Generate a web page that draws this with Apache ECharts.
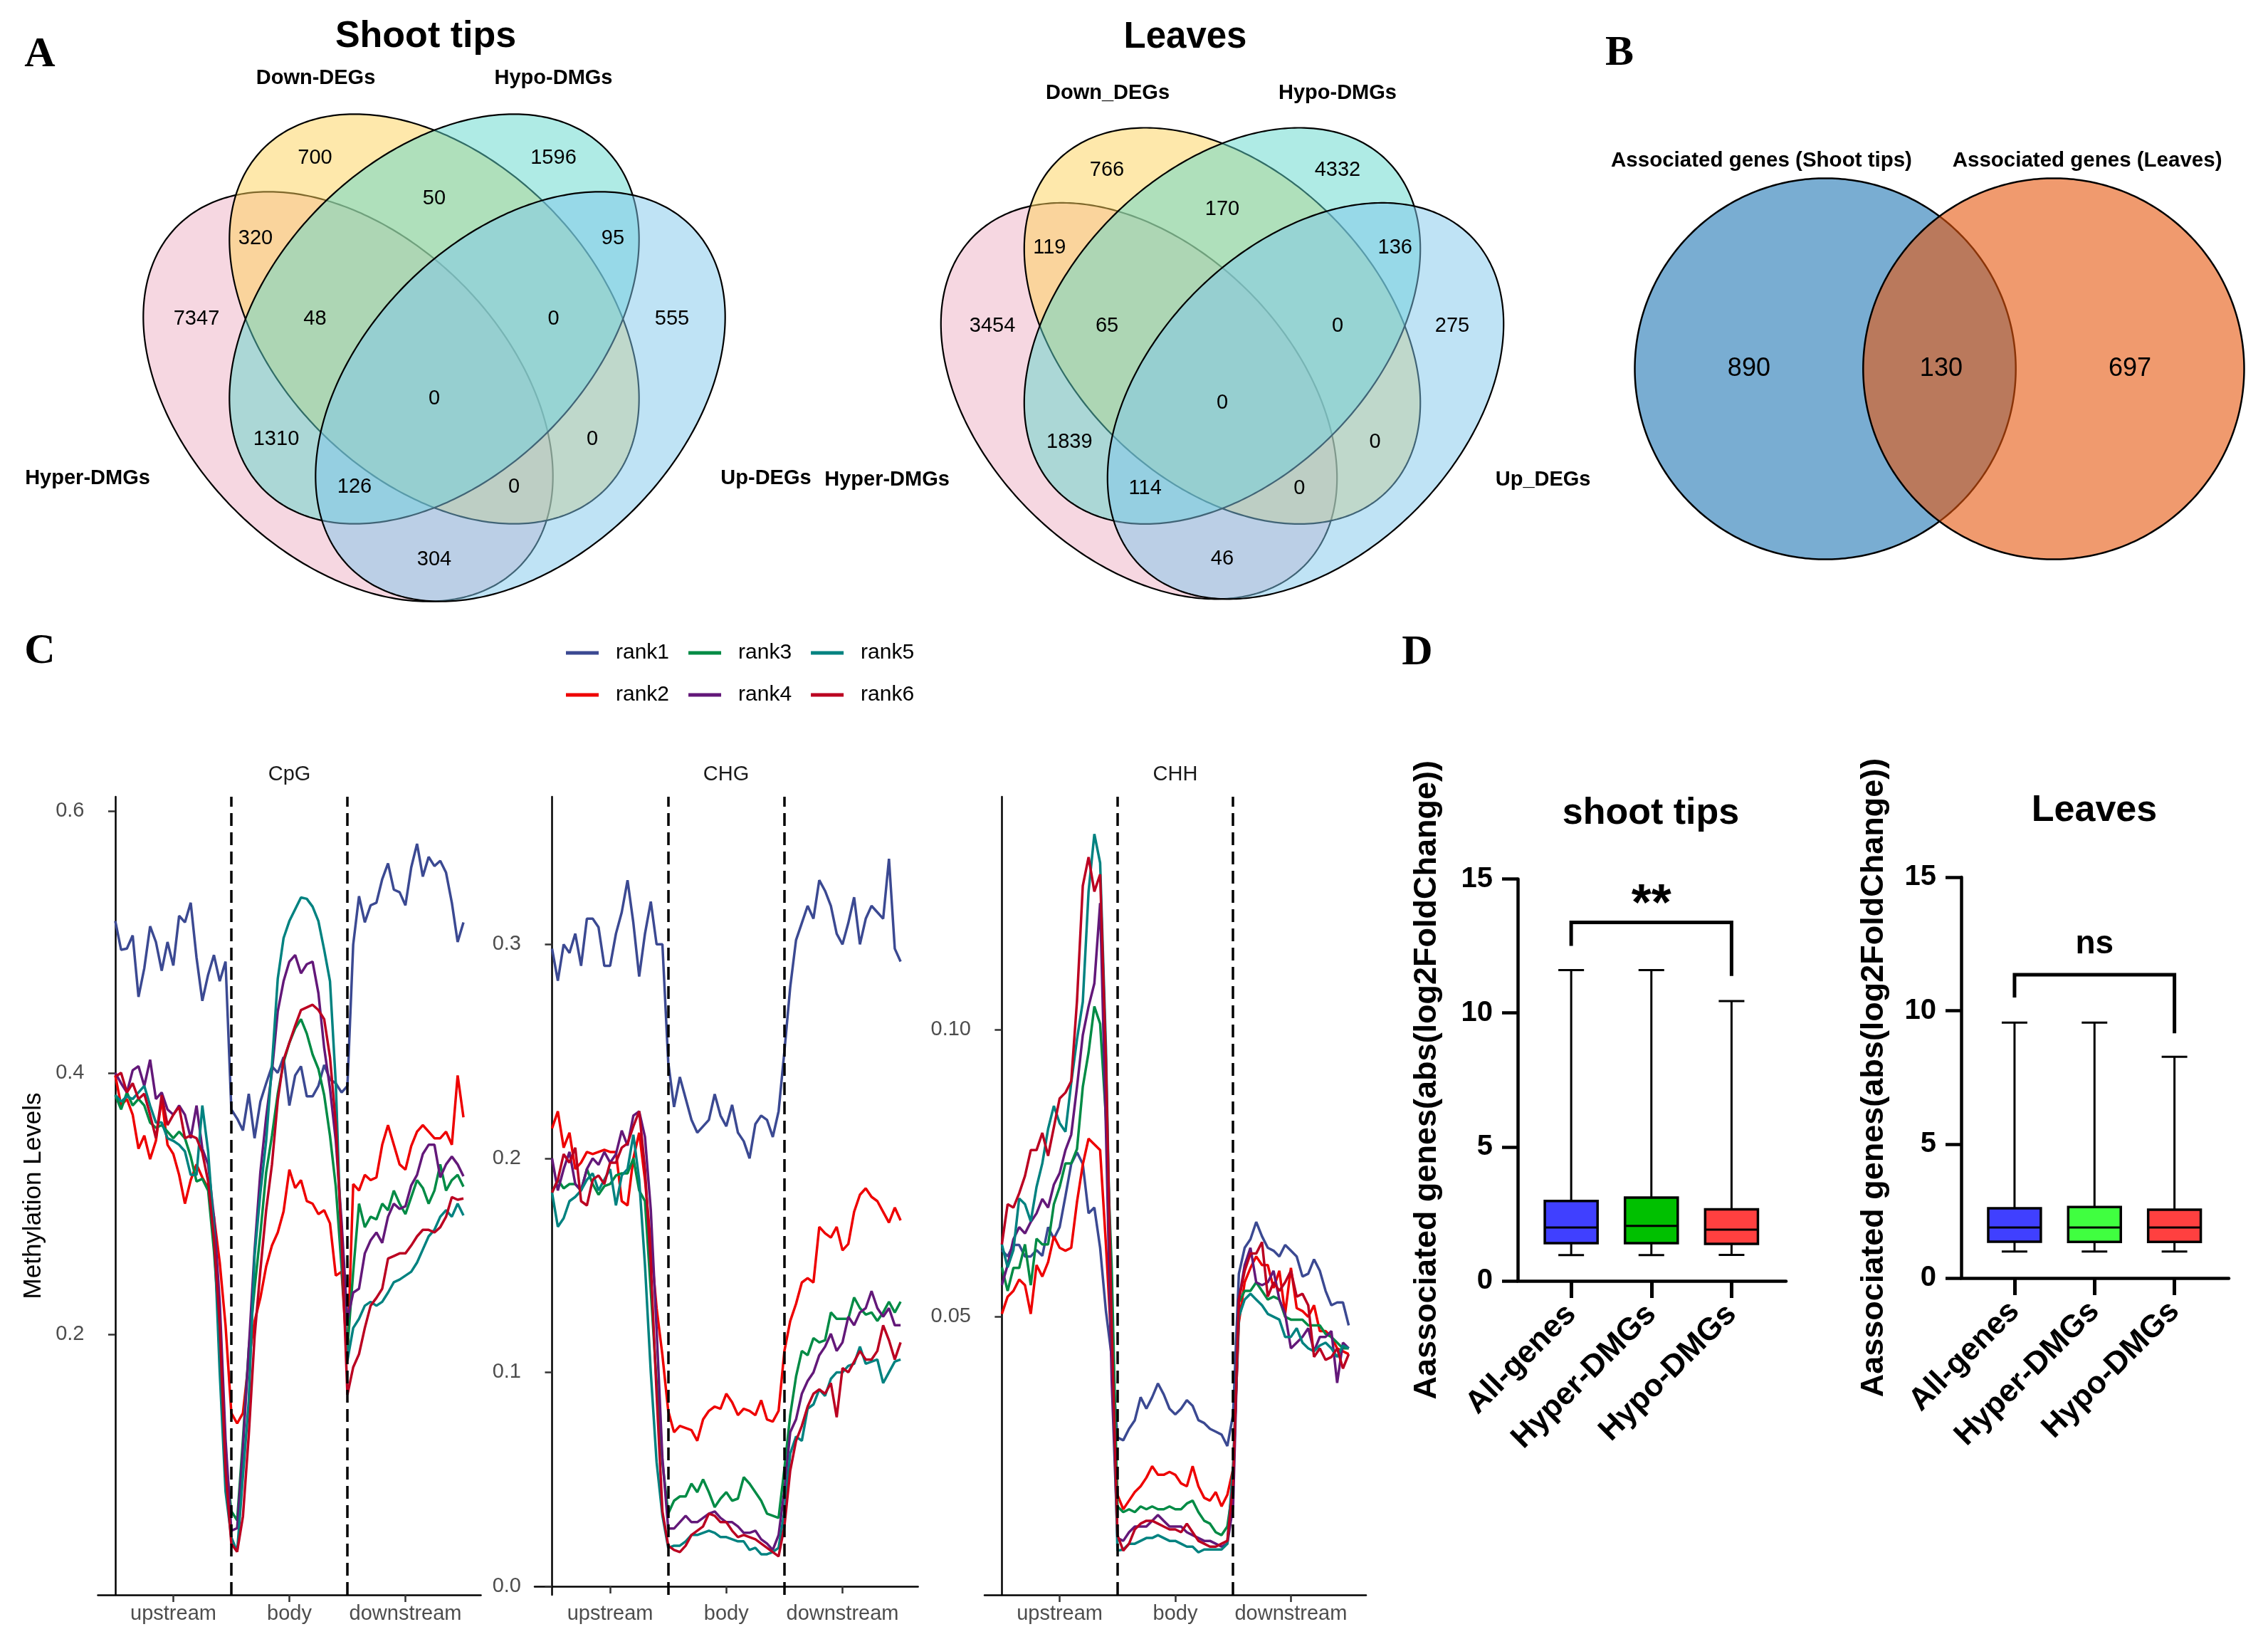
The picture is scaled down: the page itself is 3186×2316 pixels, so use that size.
<!DOCTYPE html>
<html><head><meta charset="utf-8">
<script src="https://cdn.jsdelivr.net/npm/echarts@6/dist/echarts.min.js"></script>
<style>html,body{margin:0;padding:0;background:#fff}#c{width:3186px;height:2316px}</style>
</head><body><div id="c"></div>
<script>
// ================= DATA =================
// Panel A: 4-set Venn counts, region order given by regionKeys (A=Hyper, B=Down, C=Hypo, D=Up)
const regionKeys = ['B','C','BC','AB','CD','A','ABC','BCD','D','ABCD','AC','BD','ACD','ABD','AD'];
const shootSetNames = ['Hyper-DMGs','Down-DEGs','Hypo-DMGs','Up-DEGs'];
const leavesSetNames = ['Hyper-DMGs','Down_DEGs','Hypo-DMGs','Up_DEGs'];
const shootCounts = [700,1596,50,320,95,7347,48,0,555,0,1310,0,126,0,304];
const leavesCounts = [766,4332,170,119,136,3454,65,0,275,0,1839,0,114,0,46];
// Panel B
const assocSetNames = ['Associated genes (Shoot tips)','Associated genes (Leaves)'];
const assocCounts = [890,130,697];
// Panel C
const rankNames = ['rank1','rank2','rank3','rank4','rank5','rank6'];
const contextNames = ['CpG','CHG','CHH'];
const regionNames = ['upstream','body','downstream'];
const regionTicks = [0.5,1.5,2.5];
const metaX = [0,0.05,0.1,0.15,0.2,0.25,0.3,0.35,0.4,0.45,0.5,0.55,0.6,0.65,0.7,0.75,0.8,0.85,0.9,0.95,1,1.05,1.1,1.15,1.2,1.25,1.3,1.35,1.4,1.45,1.5,1.55,1.6,1.65,1.7,1.75,1.8,1.85,1.9,1.95,2,2.05,2.1,2.15,2.2,2.25,2.3,2.35,2.4,2.45,2.5,2.55,2.6,2.65,2.7,2.75,2.8,2.85,2.9,2.95,3];
const cpgRank1 = [0.516,0.494,0.495,0.505,0.458,0.480,0.512,0.500,0.478,0.500,0.482,0.520,0.515,0.530,0.488,0.455,0.475,0.490,0.470,0.485,0.372,0.365,0.356,0.384,0.350,0.378,0.392,0.405,0.400,0.412,0.375,0.398,0.405,0.382,0.382,0.390,0.406,0.395,0.392,0.385,0.390,0.498,0.535,0.515,0.528,0.530,0.548,0.560,0.540,0.538,0.528,0.557,0.575,0.550,0.565,0.558,0.562,0.553,0.530,0.500,0.515];
const cpgRank2 = [0.398,0.375,0.380,0.368,0.342,0.352,0.334,0.348,0.380,0.345,0.338,0.322,0.300,0.318,0.330,0.320,0.312,0.290,0.255,0.207,0.140,0.132,0.140,0.180,0.210,0.228,0.252,0.268,0.278,0.294,0.326,0.312,0.318,0.302,0.300,0.292,0.295,0.285,0.245,0.248,0.180,0.315,0.310,0.322,0.318,0.320,0.345,0.360,0.345,0.330,0.326,0.344,0.355,0.360,0.355,0.350,0.350,0.355,0.345,0.398,0.366];
const cpgRank3 = [0.383,0.372,0.385,0.375,0.380,0.375,0.362,0.358,0.360,0.355,0.350,0.355,0.350,0.336,0.317,0.319,0.310,0.264,0.202,0.105,0.065,0.058,0.120,0.189,0.235,0.277,0.324,0.352,0.384,0.408,0.423,0.434,0.441,0.430,0.414,0.403,0.383,0.352,0.313,0.251,0.189,0.248,0.300,0.282,0.290,0.288,0.300,0.295,0.310,0.300,0.292,0.305,0.318,0.312,0.300,0.310,0.330,0.310,0.318,0.322,0.313];
const cpgRank4 = [0.400,0.392,0.385,0.402,0.405,0.390,0.410,0.380,0.385,0.372,0.368,0.375,0.368,0.350,0.375,0.342,0.330,0.290,0.225,0.120,0.050,0.052,0.113,0.189,0.264,0.324,0.366,0.401,0.447,0.470,0.485,0.490,0.476,0.483,0.485,0.461,0.419,0.388,0.348,0.286,0.211,0.232,0.235,0.262,0.272,0.278,0.270,0.290,0.300,0.296,0.298,0.314,0.322,0.338,0.345,0.345,0.320,0.330,0.336,0.330,0.321];
const cpgRank5 = [0.383,0.378,0.382,0.380,0.385,0.390,0.375,0.362,0.362,0.350,0.348,0.345,0.340,0.322,0.322,0.375,0.340,0.280,0.171,0.080,0.045,0.034,0.092,0.149,0.260,0.308,0.348,0.406,0.472,0.503,0.516,0.525,0.534,0.533,0.527,0.516,0.494,0.470,0.392,0.260,0.180,0.205,0.212,0.222,0.225,0.222,0.225,0.232,0.240,0.242,0.245,0.248,0.255,0.265,0.275,0.280,0.290,0.295,0.290,0.300,0.291];
const cpgRank6 = [0.397,0.400,0.385,0.392,0.380,0.384,0.368,0.350,0.383,0.360,0.368,0.374,0.350,0.352,0.350,0.339,0.317,0.273,0.207,0.096,0.040,0.034,0.061,0.123,0.198,0.249,0.295,0.330,0.379,0.410,0.423,0.436,0.448,0.450,0.452,0.448,0.441,0.412,0.361,0.273,0.154,0.175,0.185,0.205,0.222,0.228,0.235,0.258,0.260,0.262,0.262,0.268,0.275,0.280,0.280,0.278,0.282,0.290,0.305,0.303,0.304];
const chgRank1 = [0.298,0.283,0.300,0.296,0.305,0.290,0.312,0.312,0.308,0.290,0.290,0.305,0.315,0.330,0.310,0.285,0.305,0.320,0.300,0.300,0.245,0.224,0.238,0.228,0.218,0.212,0.215,0.218,0.230,0.220,0.215,0.225,0.212,0.208,0.200,0.216,0.220,0.218,0.210,0.222,0.250,0.280,0.302,0.310,0.318,0.312,0.330,0.325,0.318,0.305,0.300,0.310,0.322,0.300,0.312,0.318,0.315,0.312,0.340,0.298,0.292];
const chgRank2 = [0.214,0.222,0.205,0.212,0.195,0.198,0.203,0.202,0.203,0.204,0.203,0.203,0.180,0.178,0.200,0.212,0.190,0.160,0.130,0.108,0.082,0.072,0.075,0.074,0.073,0.068,0.078,0.082,0.084,0.083,0.090,0.086,0.080,0.083,0.082,0.080,0.087,0.078,0.077,0.082,0.110,0.124,0.132,0.142,0.144,0.142,0.168,0.165,0.163,0.168,0.157,0.160,0.175,0.183,0.186,0.182,0.180,0.175,0.170,0.177,0.171];
const chgRank3 = [0.184,0.190,0.186,0.188,0.188,0.185,0.195,0.188,0.183,0.187,0.188,0.192,0.193,0.193,0.200,0.185,0.180,0.138,0.095,0.058,0.034,0.040,0.042,0.042,0.048,0.044,0.050,0.044,0.037,0.041,0.044,0.040,0.041,0.051,0.048,0.044,0.040,0.034,0.033,0.032,0.055,0.080,0.098,0.110,0.108,0.116,0.114,0.115,0.128,0.125,0.125,0.125,0.135,0.130,0.127,0.128,0.124,0.128,0.133,0.128,0.133];
const chgRank4 = [0.200,0.185,0.195,0.203,0.188,0.185,0.195,0.200,0.197,0.203,0.198,0.202,0.213,0.206,0.220,0.222,0.210,0.176,0.120,0.060,0.027,0.027,0.030,0.033,0.030,0.030,0.032,0.034,0.035,0.032,0.030,0.030,0.028,0.025,0.025,0.026,0.022,0.020,0.017,0.024,0.045,0.072,0.078,0.090,0.096,0.100,0.108,0.112,0.118,0.110,0.114,0.126,0.122,0.128,0.130,0.138,0.130,0.126,0.130,0.122,0.122];
const chgRank5 = [0.184,0.168,0.172,0.180,0.182,0.185,0.190,0.193,0.185,0.190,0.195,0.178,0.192,0.195,0.211,0.190,0.150,0.100,0.058,0.033,0.018,0.019,0.019,0.021,0.024,0.024,0.025,0.026,0.025,0.023,0.023,0.022,0.021,0.021,0.017,0.018,0.015,0.015,0.016,0.018,0.035,0.062,0.070,0.068,0.083,0.085,0.092,0.089,0.097,0.100,0.100,0.103,0.104,0.112,0.104,0.105,0.106,0.095,0.100,0.105,0.106];
const chgRank6 = [0.184,0.190,0.202,0.198,0.205,0.180,0.178,0.190,0.192,0.188,0.198,0.198,0.205,0.207,0.215,0.222,0.195,0.150,0.090,0.035,0.019,0.017,0.016,0.019,0.024,0.026,0.028,0.034,0.033,0.030,0.030,0.026,0.023,0.024,0.023,0.022,0.020,0.018,0.016,0.014,0.028,0.054,0.068,0.075,0.084,0.090,0.092,0.090,0.095,0.079,0.102,0.100,0.105,0.110,0.106,0.106,0.110,0.122,0.115,0.106,0.114];
const chhRank1 = [0.0616,0.0605,0.0625,0.0625,0.0605,0.0605,0.0616,0.0606,0.0656,0.0636,0.0656,0.0710,0.0766,0.0786,0.0766,0.0680,0.0690,0.0620,0.0510,0.0430,0.0290,0.0285,0.0305,0.0320,0.0360,0.0340,0.0360,0.0384,0.0365,0.0340,0.0330,0.0340,0.0355,0.0345,0.0320,0.0315,0.0305,0.0300,0.0295,0.0275,0.0330,0.0575,0.0620,0.0635,0.0665,0.0640,0.0620,0.0615,0.0605,0.0625,0.0615,0.0605,0.0570,0.0575,0.0600,0.0580,0.0545,0.0520,0.0525,0.0525,0.0485];
const chhRank2 = [0.0505,0.0535,0.0545,0.0565,0.0555,0.0505,0.0590,0.0570,0.0595,0.0640,0.0620,0.0615,0.0620,0.0700,0.0765,0.0810,0.0800,0.0790,0.0626,0.0445,0.0190,0.0165,0.0180,0.0195,0.0205,0.0220,0.0240,0.0225,0.0225,0.0230,0.0225,0.0210,0.0205,0.0240,0.0205,0.0185,0.0180,0.0195,0.0170,0.0190,0.0235,0.0490,0.0560,0.0585,0.0605,0.0590,0.0590,0.0550,0.0580,0.0505,0.0585,0.0515,0.0510,0.0500,0.0520,0.0475,0.0475,0.0465,0.0445,0.0440,0.0435];
const chhRank3 = [0.0586,0.0545,0.0585,0.0585,0.0626,0.0555,0.0636,0.0626,0.0626,0.0696,0.0726,0.0767,0.0767,0.0792,0.0900,0.0960,0.1040,0.1010,0.0847,0.0586,0.0170,0.0160,0.0165,0.0160,0.0170,0.0165,0.0170,0.0165,0.0165,0.0170,0.0165,0.0165,0.0175,0.0180,0.0160,0.0145,0.0140,0.0125,0.0120,0.0135,0.0205,0.0525,0.0545,0.0545,0.0560,0.0545,0.0530,0.0535,0.0530,0.0500,0.0495,0.0495,0.0495,0.0485,0.0485,0.0485,0.0470,0.0465,0.0455,0.0445,0.0445];
const chhRank4 = [0.0555,0.0590,0.0635,0.0656,0.0645,0.0665,0.0680,0.0705,0.0690,0.0730,0.0750,0.0790,0.0817,0.0900,0.0990,0.1040,0.1080,0.1220,0.0827,0.0390,0.0115,0.0110,0.0125,0.0135,0.0135,0.0135,0.0145,0.0155,0.0145,0.0135,0.0135,0.0135,0.0125,0.0120,0.0115,0.0110,0.0110,0.0105,0.0100,0.0105,0.0170,0.0530,0.0590,0.0620,0.0560,0.0555,0.0560,0.0580,0.0530,0.0505,0.0445,0.0455,0.0465,0.0480,0.0440,0.0465,0.0465,0.0475,0.0385,0.0455,0.0445];
const chhRank5 = [0.0626,0.0586,0.0616,0.0706,0.0696,0.0666,0.0726,0.0767,0.0827,0.0867,0.0837,0.0822,0.0907,0.0983,0.1048,0.1240,0.1340,0.1290,0.0970,0.0485,0.0093,0.0095,0.0105,0.0105,0.0110,0.0115,0.0115,0.0120,0.0115,0.0110,0.0110,0.0105,0.0100,0.0100,0.0090,0.0095,0.0095,0.0095,0.0095,0.0105,0.0240,0.0500,0.0530,0.0540,0.0530,0.0520,0.0505,0.0500,0.0495,0.0465,0.0465,0.0480,0.0455,0.0445,0.0440,0.0450,0.0455,0.0445,0.0430,0.0450,0.0445];
const chhRank6 = [0.0626,0.0696,0.0690,0.0715,0.0745,0.0790,0.0790,0.0820,0.0780,0.0830,0.0880,0.0890,0.0910,0.1050,0.1250,0.1300,0.1240,0.1270,0.0948,0.0485,0.0120,0.0093,0.0105,0.0130,0.0140,0.0145,0.0145,0.0140,0.0135,0.0130,0.0130,0.0125,0.0140,0.0125,0.0110,0.0105,0.0100,0.0100,0.0105,0.0110,0.0210,0.0530,0.0580,0.0610,0.0610,0.0630,0.0535,0.0560,0.0545,0.0560,0.0580,0.0535,0.0540,0.0520,0.0430,0.0445,0.0425,0.0430,0.0445,0.0410,0.0435];
// Panel D: box stats [min, Q1, median, Q3, max]
const boxCategories = ['All-genes','Hyper-DMGs','Hypo-DMGs'];
const shootBoxStats = [[0.96,1.41,1.99,2.98,11.6],[0.96,1.41,2.05,3.11,11.6],[0.97,1.38,1.91,2.67,10.44]];
const leavesBoxStats = [[0.99,1.36,1.89,2.61,9.56],[0.99,1.35,1.89,2.66,9.56],[0.99,1.35,1.89,2.56,8.28]];
const shootBracket = [[1,12.5],[1,13.38],[3,13.38],[3,11.38]];
const leavesBracket = [[1,10.5],[1,11.35],[3,11.35],[3,9.16]];
const shootSig = '**';
const leavesSig = 'ns';

// ================= LAYOUT / STYLE =================
const FONT = '"Liberation Sans", Arial, Helvetica, sans-serif';
const SERIF = '"Liberation Serif", "Times New Roman", serif';
// Venn geometry (unit space of each Venn grid): [cx, cy, a, b, rotationDeg]
const venn4Shapes = [[-0.242,-0.114,0.678,0.45,-45],[0,0.104,0.678,0.45,-45],[0,0.104,0.678,0.45,45],[0.242,-0.114,0.678,0.45,45]];
const venn4Fill = ['rgba(237,175,195,0.5)','rgba(253,209,87,0.5)','rgba(95,215,203,0.5)','rgba(127,199,235,0.5)'];
const regionPos = [[-0.335,0.556],[0.335,0.556],[0,0.442],[-0.502,0.33],[0.502,0.33],[-0.668,0.104],[-0.335,0.104],[0.335,0.104],[0.668,0.104],[0,-0.12],[-0.444,-0.234],[0.444,-0.234],[-0.224,-0.368],[0.224,-0.368],[0,-0.572]];
const setLabelPos = [[-0.974,-0.344],[-0.333,0.78],[0.335,0.78],[0.932,-0.344]];
const venn2Shapes = [[-0.401,0,0.669,0.669,0],[0.401,0,0.669,0.669,0]];
const venn2Fill = ['rgba(31,119,180,0.6)','rgba(230,87,13,0.6)'];
const venn2LabelPos = [[-0.669,0],[0.006,0],[0.669,0]];
const venn2SetPos = [[-0.625,0.73],[0.519,0.73]];
const rankColors = ['#3B4992','#EE0000','#008B45','#631879','#008280','#BB0021'];
const shootBoxColors = ['#4040FF','#00C000','#FF4040'];
const leavesBoxColors = ['#4040FF','#40FF40','#FF4040'];

function ellipsePts(api, e){
  const cx=e[0], cy=e[1], a=e[2], b=e[3], r=e[4]*Math.PI/180, pts=[];
  for(let k=0;k<360;k++){
    const t=2*Math.PI*k/360;
    const x=cx+a*Math.cos(t)*Math.cos(r)-b*Math.sin(t)*Math.sin(r);
    const y=cy+a*Math.cos(t)*Math.sin(r)+b*Math.sin(t)*Math.cos(r);
    pts.push(api.coord([x,y]));
  }
  return pts;
}
function textEl(x,y,text,font,fill,extra){
  return Object.assign({type:'text', x:x, y:y, style:{text:text, font:font, fill:fill||'#000', align:'center', verticalAlign:'middle', textAlign:'center', textVerticalAlign:'middle'}}, extra||{});
}
function shapeSeries(gi, shapes, fills, lw){
  return {type:'custom', coordinateSystem:'cartesian2d', xAxisIndex:gi, yAxisIndex:gi, clip:false, silent:true, z:2,
    data: shapes.map(function(s){return [s[0],s[1]];}),
    renderItem: function(params, api){
      return {type:'polygon', shape:{points:ellipsePts(api, shapes[params.dataIndex])}, style:{fill:fills[params.dataIndex], stroke:'#000', lineWidth:lw}};
    }};
}
function labelSeries(gi, pos, texts, font){
  return {type:'custom', coordinateSystem:'cartesian2d', xAxisIndex:gi, yAxisIndex:gi, clip:false, silent:true, z:10,
    data: pos.map(function(p){return [p[0],p[1]];}),
    renderItem: function(params, api){
      const p = api.coord([api.value(0), api.value(1)]);
      return textEl(p[0], p[1], String(texts[params.dataIndex]), font, '#000');
    }};
}
function boxSeries(gi, stats, colors){
  return {type:'custom', coordinateSystem:'cartesian2d', xAxisIndex:gi, yAxisIndex:gi, clip:false, silent:true, z:3,
    data: stats.map(function(s,i){return [i+1].concat(s);}),
    renderItem: function(params, api){
      const x=api.value(0);
      const pMin=api.coord([x,api.value(1)]), pQ1=api.coord([x,api.value(2)]), pMd=api.coord([x,api.value(3)]), pQ3=api.coord([x,api.value(4)]), pMax=api.coord([x,api.value(5)]);
      const bw=api.size([0.658,0])[0], cw=api.size([0.32,0])[0];
      const ls={stroke:'#000', lineWidth:3};
      return {type:'group', children:[
        {type:'line', shape:{x1:pMin[0],y1:pMin[1],x2:pMax[0],y2:pMax[1]}, style:ls},
        {type:'line', shape:{x1:pMin[0]-cw/2,y1:pMin[1],x2:pMin[0]+cw/2,y2:pMin[1]}, style:ls},
        {type:'line', shape:{x1:pMax[0]-cw/2,y1:pMax[1],x2:pMax[0]+cw/2,y2:pMax[1]}, style:ls},
        {type:'rect', shape:{x:pQ1[0]-bw/2,y:pQ3[1],width:bw,height:pQ1[1]-pQ3[1]}, style:{fill:colors[params.dataIndex], stroke:'#000', lineWidth:3.5}},
        {type:'line', shape:{x1:pMd[0]-bw/2,y1:pMd[1],x2:pMd[0]+bw/2,y2:pMd[1]}, style:{stroke:'#000', lineWidth:3}}
      ]};
    }};
}

const grids = [
  {left:110, top:0, width:1000, height:1000},
  {left:1233.5, top:24.5, width:967, height:967},
  {left:2324.5, top:118, width:800, height:800},
  {left:137.5, top:1119, width:538, height:1121},
  {left:751, top:1119, width:538.6, height:1121},
  {left:1383, top:1119, width:536, height:1121},
  {left:2132, top:1234.5, width:377, height:564.5},
  {left:2755, top:1232, width:376, height:563}
];
const xAxes = [], yAxes = [];
for (let g=0; g<3; g++){
  xAxes.push({gridIndex:g, type:'value', min:-1, max:1, show:false});
  yAxes.push({gridIndex:g, type:'value', min:-1, max:1, show:false});
}
const cRanges = [[0.001,0.611,[0.2,0.4,0.6],1],[-0.004,0.369,[0,0.1,0.2,0.3],1],[0.0016,0.1405,[0.05,0.10],2]];
cRanges.forEach(function(r, k){
  const gi = 3+k;
  xAxes.push({gridIndex:gi, type:'value', min:-0.15, max:3.15,
    axisLine:{show:true, lineStyle:{color:'#000', width:2.5}},
    axisTick:{show:true, customValues:regionTicks, length:10, lineStyle:{color:'#333', width:2.5}},
    axisLabel:{show:true, customValues:regionTicks, formatter:function(v){return regionNames[Math.round(v-0.5)];}, fontSize:29, color:'#4D4D4D', margin:12, fontFamily:FONT},
    splitLine:{show:false}});
  yAxes.push({gridIndex:gi, type:'value', min:r[0], max:r[1],
    name: k===0 ? 'Methylation Levels' : '', nameLocation:'middle', nameGap:73, nameTextStyle:{fontSize:35, color:'#000', fontFamily:FONT},
    axisLine:{show:true, lineStyle:{color:'#000', width:2.5}},
    axisTick:{show:true, customValues:r[2], length:10, lineStyle:{color:'#333', width:2.5}},
    axisLabel:{show:true, customValues:r[2], formatter:function(v){return v.toFixed(r[3]);}, fontSize:29, color:'#4D4D4D', margin:19, fontFamily:FONT},
    splitLine:{show:false}});
});
[6,7].forEach(function(gi){
  xAxes.push({gridIndex:gi, type:'value', min:0.333, max:3.68,
    axisLine:{show:true, lineStyle:{color:'#000', width:4.5}},
    axisTick:{show:true, customValues:[1,2,3], length:24, lineStyle:{color:'#000', width:5}},
    axisLabel:{show:true, customValues:[1,2,3], rotate:45, formatter:function(v){return boxCategories[Math.round(v)-1];}, fontSize:44, fontWeight:'bold', color:'#000', margin:40, fontFamily:FONT},
    splitLine:{show:false}});
  yAxes.push({gridIndex:gi, type:'value', min:0, max:15, interval:5,
    name:'Aassociated genes(abs(log2FoldChange))', nameLocation:'middle', nameGap: gi===6 ? 105 : 100,
    nameTextStyle:{fontSize:45, fontWeight:'bold', color:'#000', fontFamily:FONT},
    axisLine:{show:true, lineStyle:{color:'#000', width:4.5}},
    axisTick:{show:true, length:22, lineStyle:{color:'#000', width:4.5}},
    axisLabel:{show:true, fontSize:40, fontWeight:'bold', color:'#000', margin:35, fontFamily:FONT},
    splitLine:{show:false}});
});

const series = [];
// Panel A
series.push(shapeSeries(0, venn4Shapes, venn4Fill, 2.2));
series.push(labelSeries(0, regionPos, shootCounts, '29px '+FONT));
series.push(labelSeries(0, setLabelPos, shootSetNames, 'bold 29px '+FONT));
series.push(shapeSeries(1, venn4Shapes, venn4Fill, 2.2));
series.push(labelSeries(1, regionPos, leavesCounts, '29px '+FONT));
series.push(labelSeries(1, setLabelPos, leavesSetNames, 'bold 29px '+FONT));
// Panel B
series.push(shapeSeries(2, venn2Shapes, venn2Fill, 2.5));
series.push(labelSeries(2, venn2LabelPos, assocCounts, '36px '+FONT));
series.push(labelSeries(2, venn2SetPos, assocSetNames, 'bold 29.5px '+FONT));
// Panel C
const cData = [[cpgRank1,cpgRank2,cpgRank3,cpgRank4,cpgRank5,cpgRank6],[chgRank1,chgRank2,chgRank3,chgRank4,chgRank5,chgRank6],[chhRank1,chhRank2,chhRank3,chhRank4,chhRank5,chhRank6]];
cData.forEach(function(panel, k){
  const gi = 3+k;
  panel.forEach(function(arr, r){
    series.push({type:'line', name:rankNames[r], xAxisIndex:gi, yAxisIndex:gi, showSymbol:false, symbol:'none', silent:true,
      data: metaX.map(function(x,i){return [x, arr[i]];}),
      lineStyle:{color:rankColors[r], width:3.5}, itemStyle:{color:rankColors[r]}, z:2});
  });
  series.push({type:'line', name:'_div'+k, xAxisIndex:gi, yAxisIndex:gi, data:[], silent:true,
    markLine:{symbol:['none','none'], silent:true, animation:false, label:{show:false},
      lineStyle:{type:[18,9], color:'#000', width:3.5}, data:[{xAxis:1},{xAxis:2}]}});
});
// Panel D
series.push(boxSeries(6, shootBoxStats, shootBoxColors));
series.push(boxSeries(7, leavesBoxStats, leavesBoxColors));
series.push({type:'line', xAxisIndex:6, yAxisIndex:6, data:shootBracket, showSymbol:false, symbol:'none', silent:true, lineStyle:{color:'#000', width:5, join:'miter'}, z:3});
series.push({type:'line', xAxisIndex:7, yAxisIndex:7, data:leavesBracket, showSymbol:false, symbol:'none', silent:true, lineStyle:{color:'#000', width:5, join:'miter'}, z:3});
series.push(labelSeries(6, [[2,14.0]], [shootSig], 'bold 72px '+FONT));
series.push(labelSeries(7, [[2,12.5]], [leavesSig], 'bold 46px '+FONT));

function gtext(x,y,text,font,fill,rot){
  const el = {type:'text', x:x, y:y, silent:true, style:{text:text, font:font, fill:fill||'#000', textAlign:'center', textVerticalAlign:'middle', align:'center', verticalAlign:'middle'}};
  if (rot) el.rotation = rot;
  return el;
}
const graphics = [
  gtext(56,77,'A','bold 60px '+SERIF),
  gtext(2275,75,'B','bold 60px '+SERIF),
  gtext(56,915,'C','bold 60px '+SERIF),
  gtext(1991,917,'D','bold 60px '+SERIF),
  gtext(598,52,'Shoot tips','bold 52px '+FONT),
  gtext(1665,53,'Leaves','bold 51px '+FONT),
  gtext(406.5,1088,contextNames[0],'29px '+FONT,'#1A1A1A'),
  gtext(1020,1088,contextNames[1],'29px '+FONT,'#1A1A1A'),
  gtext(1651,1088,contextNames[2],'29px '+FONT,'#1A1A1A'),
  gtext(2319,1143,'shoot tips','bold 52px '+FONT),
  gtext(2942,1139,'Leaves','bold 52px '+FONT)
];

const legendCommon = {icon:'rect', itemWidth:46, itemHeight:5, itemGap:27, padding:0, selectedMode:false, orient:'horizontal',
  textStyle:{fontSize:30, color:'#000', fontFamily:FONT, padding:[0,0,0,19]}};
const option = {
  animation:false,
  backgroundColor:'#ffffff',
  textStyle:{fontFamily:FONT},
  grid: grids,
  xAxis: xAxes,
  yAxis: yAxes,
  legend: [
    Object.assign({}, legendCommon, {data:['rank1','rank3','rank5'], left:795, top:902}),
    Object.assign({}, legendCommon, {data:['rank2','rank4','rank6'], left:795, top:961})
  ],
  graphic: graphics,
  series: series
};
const chart = echarts.init(document.getElementById('c'));
chart.setOption(option);
</script></body></html>
